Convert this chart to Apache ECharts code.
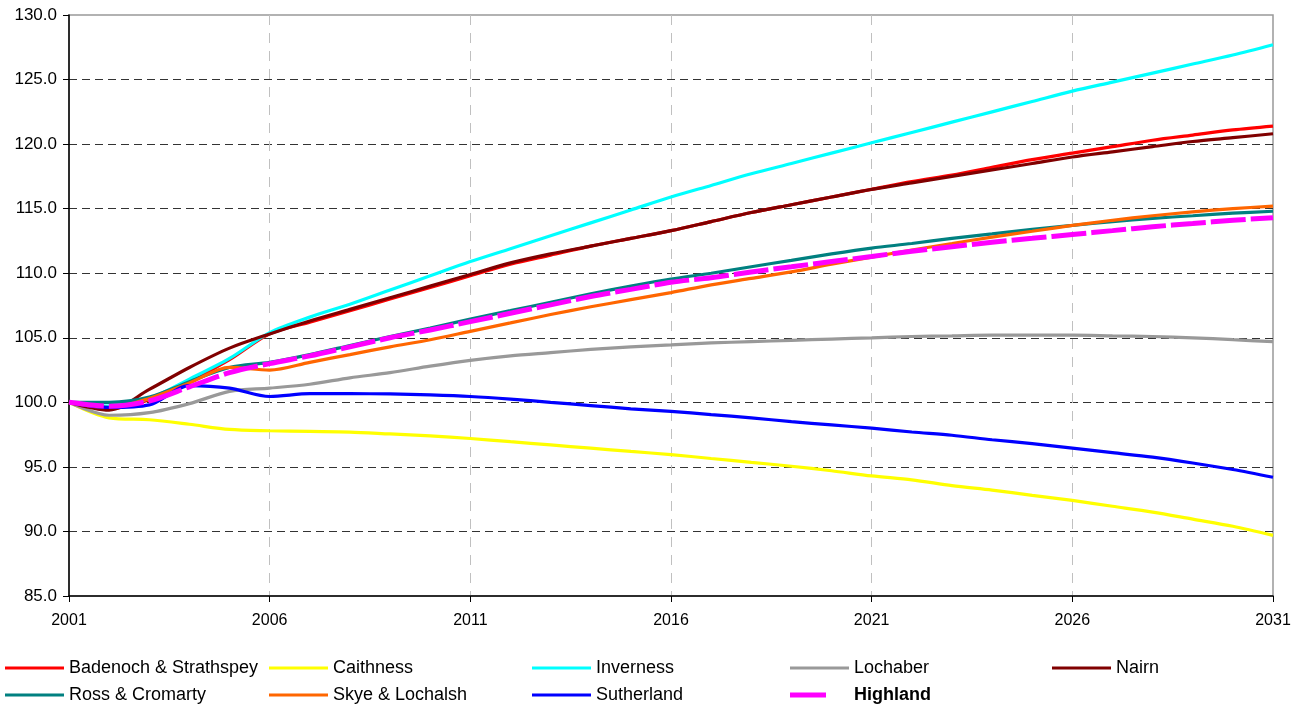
<!DOCTYPE html>
<html><head><meta charset="utf-8">
<script src="https://cdn.jsdelivr.net/npm/echarts@6/dist/echarts.min.js"></script>
<style>html,body{margin:0;padding:0;background:#fff}#c{width:1307px;height:708px}</style>
</head><body><div id="c"></div>
<script>
const years = [];
for (let y = 2001; y <= 2031; y++) years.push(String(y));

const badenoch = [100.0,99.5,100.2,101.6,103.3,105.3,106.2,107.1,108.0,108.9,109.8,110.7,111.4,112.1,112.7,113.3,114.0,114.7,115.3,115.9,116.5,117.1,117.6,118.2,118.8,119.3,119.8,120.3,120.7,121.1,121.4];
const caithness = [100.0,98.8,98.65,98.3,97.9,97.8,97.75,97.7,97.55,97.4,97.2,96.95,96.7,96.45,96.2,95.95,95.65,95.35,95.05,94.7,94.3,94.0,93.55,93.2,92.8,92.4,91.95,91.5,90.95,90.4,89.7];
const inverness = [100.0,99.7,100.3,101.8,103.4,105.4,106.6,107.6,108.7,109.8,110.9,111.9,112.9,113.9,114.9,115.9,116.8,117.7,118.5,119.3,120.1,120.9,121.7,122.5,123.3,124.1,124.8,125.5,126.2,126.9,127.7];
const lochaber = [100.0,99.0,99.2,99.9,100.85,101.1,101.4,101.9,102.3,102.8,103.25,103.6,103.85,104.1,104.3,104.45,104.6,104.7,104.8,104.9,105.0,105.1,105.15,105.2,105.2,105.2,105.15,105.1,105.0,104.85,104.7];
const nairn = [100.0,99.4,101.0,102.7,104.2,105.3,106.3,107.2,108.1,109.0,109.9,110.8,111.5,112.1,112.7,113.3,114.0,114.7,115.3,115.9,116.5,117.0,117.5,118.0,118.5,119.0,119.4,119.8,120.2,120.5,120.8];
const ross = [100.0,100.0,100.4,101.6,102.7,103.1,103.7,104.4,105.1,105.75,106.45,107.1,107.75,108.4,109.0,109.55,110.0,110.5,111.0,111.5,111.95,112.3,112.7,113.05,113.4,113.7,114.0,114.25,114.45,114.65,114.8];
const skye = [100.0,99.6,100.3,101.5,102.7,102.5,103.1,103.7,104.3,104.85,105.5,106.15,106.8,107.4,107.95,108.5,109.1,109.6,110.1,110.7,111.25,111.8,112.3,112.8,113.25,113.7,114.1,114.45,114.75,115.0,115.2];
const sutherland = [100.0,99.6,99.8,101.3,101.1,100.45,100.67,100.67,100.65,100.57,100.45,100.25,100.0,99.75,99.5,99.3,99.05,98.8,98.5,98.25,98.0,97.7,97.45,97.1,96.8,96.45,96.1,95.75,95.3,94.8,94.2];
const highland = [100.0,99.7,100.1,101.2,102.3,103.0,103.6,104.3,105.0,105.6,106.25,106.9,107.55,108.2,108.75,109.3,109.65,110.1,110.5,110.9,111.3,111.7,112.05,112.4,112.7,113.0,113.3,113.6,113.85,114.1,114.3];

const names = ['Badenoch & Strathspey','Caithness','Inverness','Lochaber','Nairn','Ross & Cromarty','Skye & Lochalsh','Sutherland','Highland'];
const values = [badenoch,caithness,inverness,lochaber,nairn,ross,skye,sutherland,highland];
const colors = ['#FF0000','#FFFF00','#00FFFF','#999999','#800000','#008080','#FF6600','#0000FF','#FF00FF'];

const FONT = 'Liberation Sans, Arial, sans-serif';

const series = names.map((n,i)=>({
  name: n, type: 'line', data: values[i], smooth: 0.3, symbol: 'none',
  lineStyle: i===8 ? {color: colors[i], width: 5, type: [35,5]} : {color: colors[i], width: 3.2},
  itemStyle: {color: colors[i]},
  z: 2 + i
}));

const lineIcon = 'path://M0,5.5L59,5.5L59,8.5L0,8.5Z M0,0L0,14L0,0Z M59,0L59,14L59,0Z';
const dashIcon = 'path://M0,4.5L36,4.5L36,9.5L0,9.5Z M0,0L0,14L0,0Z M59,0L59,14L59,0Z';

const colLeft = [5, 269, 532, 790, 1052];
const columns = [[0,5],[1,6],[2,7],[3,8],[4]];
const legends = columns.map((col,ci)=>({
  orient: 'vertical', left: colLeft[ci], top: 659, itemWidth: 59, itemHeight: 14, itemGap: 9,
  padding: 0,
  itemStyle: {borderWidth: 0},
  textStyle: {fontFamily: FONT, fontSize: 18, color: '#000'},
  data: col.map(i => i===8
    ? {name: names[i], icon: dashIcon, textStyle: {fontWeight: 'bold'}}
    : {name: names[i], icon: lineIcon})
}));

const chart = echarts.init(document.getElementById('c'), null, {renderer: 'canvas'});
chart.setOption({
  animation: false,
  backgroundColor: '#fff',
  grid: {left: 69, right: 34, top: 15, bottom: 112, show: true, borderColor: '#999', borderWidth: 1.5},
  legend: legends,
  xAxis: {
    type: 'category', data: years, boundaryGap: false,
    axisLine: {lineStyle: {color: '#000', width: 1.5}},
    axisTick: {interval: 4, length: 6, lineStyle: {color: '#000'}},
    axisLabel: {interval: 4, fontFamily: FONT, fontSize: 16, color: '#000', margin: 17},
    splitLine: {show: true, interval: 4, showMinLine: false, showMaxLine: false, lineStyle: {color: '#c0c0c0', type: [10,8], width: 1}}
  },
  yAxis: {
    type: 'value', min: 85, max: 130, interval: 5,
    axisLine: {show: true, lineStyle: {color: '#000', width: 1.5}},
    axisTick: {show: true, length: 6, lineStyle: {color: '#000'}},
    axisLabel: {fontFamily: FONT, fontSize: 17, color: '#000', margin: 12, formatter: v => v.toFixed(1)},
    splitLine: {show: true, showMinLine: false, showMaxLine: false, lineStyle: {color: '#333', type: [8,5], width: 1}}
  },
  series: series
});
</script></body></html>
